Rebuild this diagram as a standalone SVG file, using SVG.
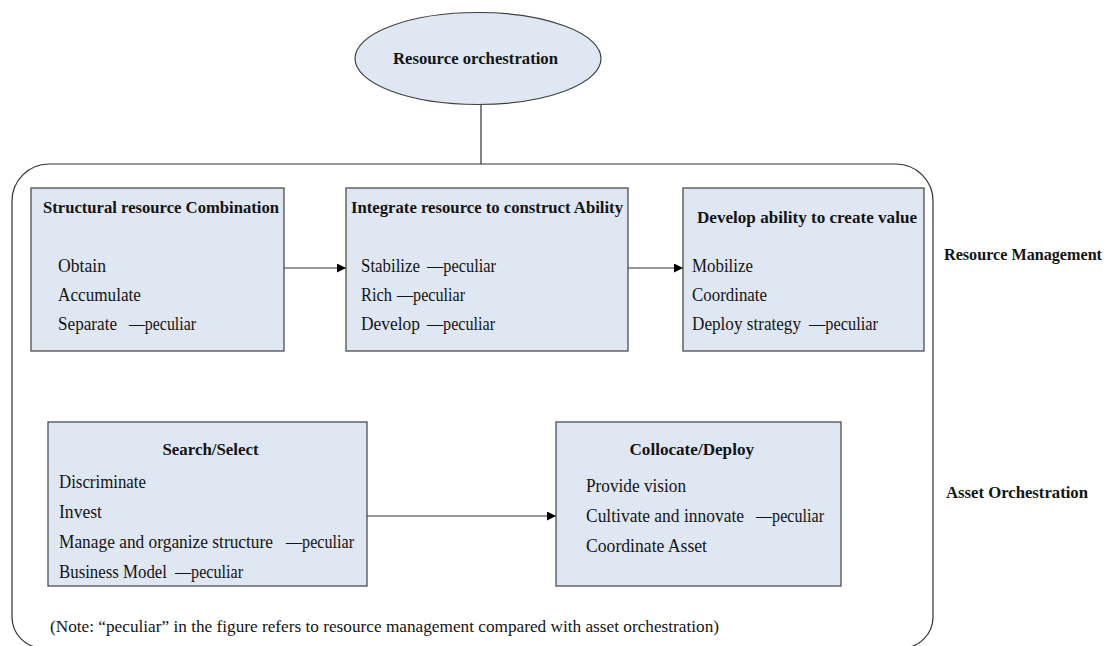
<svg xmlns="http://www.w3.org/2000/svg" width="1113" height="646" viewBox="0 0 1113 646">
<style>
text{font-family:"Liberation Serif","Times New Roman",serif;fill:#141414}
.t{font-size:17.5px;font-weight:bold}
.r{font-size:18px}
.n{font-size:17px}
.box{fill:#dfe7f3;stroke:#404040;stroke-width:1.2}
.ln{stroke:#303030;stroke-width:1.2;fill:none}
</style>
<defs>
<marker id="ah" viewBox="0 0 10 10" refX="10" refY="5" markerWidth="9" markerHeight="9" markerUnits="userSpaceOnUse" orient="auto">
<path d="M0,0 L10,5 L0,10 Z" fill="#000"/>
</marker>
</defs>
<rect width="1113" height="646" fill="#fff"/>

<g id="connectors">
<line class="ln" x1="481" y1="104" x2="481" y2="164"/>
<line class="ln" x1="284" y1="268" x2="346" y2="268" marker-end="url(#ah)"/>
<line class="ln" x1="628" y1="268" x2="683" y2="268" marker-end="url(#ah)"/>
<line class="ln" x1="367" y1="516" x2="556" y2="516" marker-end="url(#ah)"/>
</g>

<g id="frame">
<path class="ln" d="M12,201 A37,37 0 0 1 49,164 L896,164 A37,37 0 0 1 933,201 L933,617 A31,31 0 0 1 902,648 L43,648 A31,31 0 0 1 12,617 Z"/>
</g>

<g id="resource-orchestration">
<ellipse cx="478" cy="58.5" rx="123" ry="46" class="box"/>
<text class="t" x="393" y="64" textLength="165" lengthAdjust="spacingAndGlyphs">Resource orchestration</text>
</g>

<g id="structural">
<rect class="box" x="31" y="188" width="253" height="163"/>
<text class="t" x="43" y="213" textLength="236" lengthAdjust="spacingAndGlyphs">Structural resource Combination</text>
<text class="r" x="58" y="272" textLength="48" lengthAdjust="spacingAndGlyphs">Obtain</text>
<text class="r" x="58" y="301" textLength="83" lengthAdjust="spacingAndGlyphs">Accumulate</text>
<text class="r" x="58" y="330" textLength="59" lengthAdjust="spacingAndGlyphs">Separate</text>
<text class="r" x="129" y="330" textLength="67" lengthAdjust="spacingAndGlyphs">—peculiar</text>
</g>

<g id="integrate">
<rect class="box" x="346" y="188" width="282" height="163"/>
<text class="t" x="351" y="213" textLength="272" lengthAdjust="spacingAndGlyphs">Integrate resource to construct Ability</text>
<text class="r" x="361" y="272" textLength="59" lengthAdjust="spacingAndGlyphs">Stabilize</text>
<text class="r" x="427" y="272" textLength="69" lengthAdjust="spacingAndGlyphs">—peculiar</text>
<text class="r" x="361" y="301" textLength="31" lengthAdjust="spacingAndGlyphs">Rich</text>
<text class="r" x="397" y="301" textLength="68" lengthAdjust="spacingAndGlyphs">—peculiar</text>
<text class="r" x="361" y="330" textLength="59" lengthAdjust="spacingAndGlyphs">Develop</text>
<text class="r" x="427" y="330" textLength="68" lengthAdjust="spacingAndGlyphs">—peculiar</text>
</g>

<g id="develop">
<rect class="box" x="683" y="188" width="241" height="163"/>
<text class="t" x="697" y="223" textLength="220" lengthAdjust="spacingAndGlyphs">Develop ability to create value</text>
<text class="r" x="692" y="272" textLength="61" lengthAdjust="spacingAndGlyphs">Mobilize</text>
<text class="r" x="692" y="301" textLength="75" lengthAdjust="spacingAndGlyphs">Coordinate</text>
<text class="r" x="692" y="330" textLength="109" lengthAdjust="spacingAndGlyphs">Deploy strategy</text>
<text class="r" x="809" y="330" textLength="69" lengthAdjust="spacingAndGlyphs">—peculiar</text>
</g>

<g id="search-select">
<rect class="box" x="48" y="422" width="319" height="164"/>
<text class="t" x="162.5" y="455" textLength="96" lengthAdjust="spacingAndGlyphs">Search/Select</text>
<text class="r" x="59" y="488" textLength="87" lengthAdjust="spacingAndGlyphs">Discriminate</text>
<text class="r" x="59" y="518" textLength="43" lengthAdjust="spacingAndGlyphs">Invest</text>
<text class="r" x="59" y="548" textLength="214" lengthAdjust="spacingAndGlyphs">Manage and organize structure</text>
<text class="r" x="286" y="548" textLength="68" lengthAdjust="spacingAndGlyphs">—peculiar</text>
<text class="r" x="59" y="578" textLength="108" lengthAdjust="spacingAndGlyphs">Business Model</text>
<text class="r" x="175" y="578" textLength="68" lengthAdjust="spacingAndGlyphs">—peculiar</text>
</g>

<g id="collocate-deploy">
<rect class="box" x="556" y="422" width="285" height="164"/>
<text class="t" x="629.5" y="455" textLength="124.5" lengthAdjust="spacingAndGlyphs">Collocate/Deploy</text>
<text class="r" x="586" y="492" textLength="100" lengthAdjust="spacingAndGlyphs">Provide vision</text>
<text class="r" x="586" y="522" textLength="158" lengthAdjust="spacingAndGlyphs">Cultivate and innovate</text>
<text class="r" x="756" y="522" textLength="68" lengthAdjust="spacingAndGlyphs">—peculiar</text>
<text class="r" x="586" y="552" textLength="121" lengthAdjust="spacingAndGlyphs">Coordinate Asset</text>
</g>

<g id="labels">
<text class="t" x="944" y="260" textLength="158" lengthAdjust="spacingAndGlyphs">Resource Management</text>
<text class="t" x="946" y="498" textLength="142" lengthAdjust="spacingAndGlyphs">Asset Orchestration</text>
<text class="n" x="50" y="632" textLength="669" lengthAdjust="spacingAndGlyphs">(Note: “peculiar” in the figure refers to resource management compared with asset orchestration)</text>
</g>
</svg>
